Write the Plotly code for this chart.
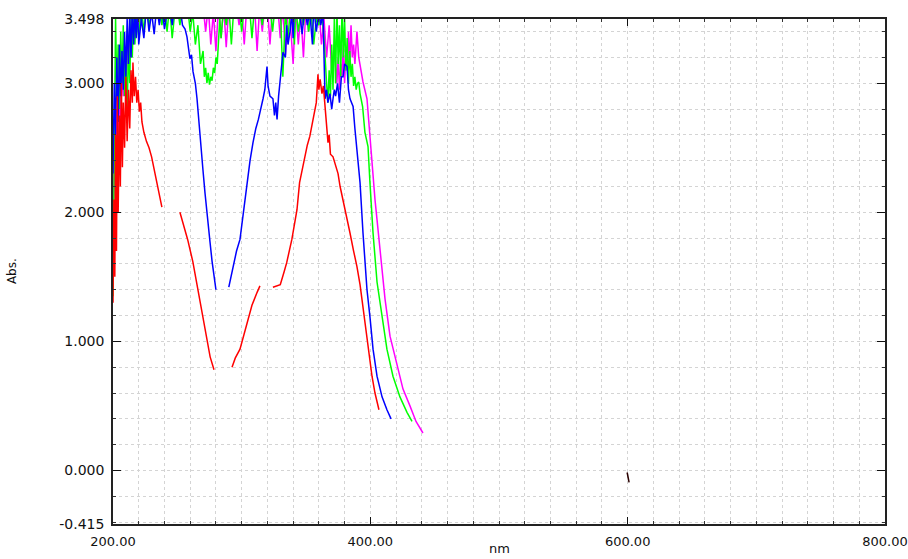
import plotly.graph_objects as go

# ---- data (wavelength nm, absorbance) ----
red_nm = [200, 200.7, 201.4, 202, 202.7, 203.4, 204, 205, 205.7, 206.5, 207.3, 208, 209, 210, 211, 212, 213, 214, 215,
          215.5, 216.5, 217.5, 218.5, 219.5, 220.5, 221.5, 222.5, 224, 226, 228, 230, 232, 234, 236, 238, None,
          252, 255, 258, 262, 265, 268, 270, 273, 275.5, 278.5, None,
          292.5, 295, 298.7, 302, 305, 308, 312, 314.2, None,
          324.3, 327, 330, 333, 335, 339, 343, 345, 347, 349, 351, 353, 355, 357, 358, 359.3, 360, 361, 362.4, 363.5,
          364.8, 366, 367.1, 368, 369, 371, 373, 374.9, 376.5, 378.8, 381, 384.2, 387, 389.6, 392, 394.3, 396.5,
          398.2, 400, 401.3, 403.6, 405, 406.7]
red_abs = [1.30, 2.10, 1.50, 2.60, 1.70, 2.90, 2.00, 2.75, 2.20, 3.00, 2.35, 2.85, 2.50, 3.05, 2.55, 2.95, 2.65, 3.10, 2.85,
           3.16, 2.90, 3.05, 2.85, 2.95, 2.78, 2.85, 2.70, 2.62, 2.55, 2.50, 2.43, 2.33, 2.22, 2.12, 2.04, None,
           2.00, 1.90, 1.79, 1.62, 1.46, 1.29, 1.19, 1.02, 0.88, 0.78, None,
           0.80, 0.87, 0.94, 1.06, 1.17, 1.28, 1.38, 1.43, None,
           1.42, 1.43, 1.44, 1.54, 1.61, 1.79, 2.02, 2.23, 2.33, 2.43, 2.52, 2.59, 2.70, 2.78, 2.85, 3.07, 2.95, 3.03, 2.92, 2.98,
           2.80, 2.70, 2.54, 2.60, 2.45, 2.43, 2.36, 2.30, 2.20, 2.10, 1.98, 1.84, 1.70, 1.58, 1.44, 1.27, 1.10,
           0.94, 0.82, 0.73, 0.60, 0.53, 0.47]

blue_nm = [200, 201, 202, 203, 204, 205, 206, 207, 208, 209, 210, 211, 212, 213, 214, 215, 216, 217, 218, 219, 220,
           222, 224, 226, 228, 230, 232, 234, 236, 238, 240, 242, 244, 246, 248, 250, 252, 254, 256, 257.5, 259.8,
           261, 262.2, 264, 265.3, 267.6, 269.9, 271.5, 273.1, 275.4, 277, 278.5, 280, None,
           290, 293.3, 296, 298.7, 301, 304.1, 306.5, 308.8, 311, 313, 315, 316.6, 318, 319.7, 320.5, 322, 324.3,
           325.5, 326.5, 327.5, 328.7, 329.8, 331, 332.1, 334, 335, 336, 337.6, 339, 340, 341, 343, 345, 347, 349,
           351, 353, 355, 356, 358, 360, 361.5, 363.2, 364.8, 366, 367, 368.6, 370, 371, 372, 373, 374.5, 376,
           377.5, 378.8, 380, 381.9, 383, 384.2, 385.5, 386.6, 388, 390.4, 392, 394.3, 397.4, 399.7, 402.1, 405.2,
           409.1, 412.9, 416.1]
blue_abs = [2.30, 3.00, 2.60, 3.20, 2.70, 3.30, 2.90, 3.25, 2.95, 3.40, 3.05, 3.50, 3.15, 3.55, 3.20, 3.60, 3.30, 3.55, 3.35, 3.60, 3.30,
            3.50, 3.35, 3.60, 3.40, 3.55, 3.38, 3.60, 3.45, 3.60, 3.42, 3.55, 3.60, 3.45, 3.60, 3.50, 3.60, 3.45, 3.42, 3.36, 3.19,
            3.22, 3.09, 3.00, 2.88, 2.57, 2.33, 2.15, 1.97, 1.77, 1.62, 1.50, 1.40, None,
            1.42, 1.58, 1.70, 1.79, 1.98, 2.23, 2.40, 2.54, 2.65, 2.72, 2.80, 2.88, 2.95, 3.13, 2.98, 2.90, 2.88,
            2.75, 2.85, 2.72, 2.90, 3.01, 3.15, 3.24, 3.20, 3.45, 3.30, 3.40, 3.55, 3.35, 3.60, 3.50, 3.55, 3.38, 3.60,
            3.45, 3.55, 3.30, 3.60, 3.40, 3.55, 3.45, 3.55, 2.88, 2.95, 2.85, 2.92, 2.80, 2.88, 2.95, 2.90, 3.00, 2.85,
            3.05, 3.05, 3.15, 3.13, 2.95, 2.88, 2.85, 2.82, 2.65, 2.36, 2.23, 1.84, 1.40, 1.19, 0.94, 0.73,
            0.57, 0.47, 0.40]

green_nm = [200, 201, 202, 203, 204, 205, 206, 207, 208, 209, 210, 211, 212, 213, 214, 215, 216, 217, 218, 220, 222,
            224, 226, 228, 230, 232, 234, 236, 238, 240, 242, 244, 246, 248, 250, 252, 254, 256, 258, 260, 262, 264,
            266, 268, 270, 271, 272, 273, 274, 275, 276, 277, 278, 279, 280, 281, 282, 283, 284, 286, 288, 290, 292,
            294, 296, 298, 300, 302, 304, 306, 308, 310, 312, 314, 316, 318, 320, 322, 324, 326, 328, 330, 332, 334,
            336, 338, 340, 341, 342, 344, 346, 348, 350, 352, 354, 356, 358, 360, 362, 364, 366, 367, 368, 369, 370,
            371, 372, 373, 374, 375, 376, 377, 378, 379, 380, 381, 382, 383, 384, 385, 386, 387, 388, 389, 390, 391,
            392, 394, 395.8, 398.2, 399.7, 402.1, 405.2, 409.1, 412.9, 417.6, 423, 428.5, 432.4, 436.3]
green_abs = [1.35, 2.40, 3.50, 2.90, 3.30, 2.80, 3.40, 3.00, 3.45, 2.90, 3.20, 2.75, 3.30, 3.00, 3.50, 3.20, 3.60, 3.30, 3.55, 3.35, 3.60,
             3.40, 3.60, 3.45, 3.55, 3.60, 3.50, 3.60, 3.45, 3.60, 3.40, 3.60, 3.35, 3.55, 3.60, 3.45, 3.60, 3.50, 3.60, 3.40, 3.55, 3.30,
             3.45, 3.15, 3.25, 3.05, 3.12, 3.00, 3.08, 2.99, 3.05, 3.02, 3.12, 3.08, 3.20, 3.15, 3.30, 3.50, 3.35, 3.60, 3.45, 3.60, 3.30,
             3.60, 3.50, 3.60, 3.40, 3.60, 3.55, 3.60, 3.35, 3.60, 3.50, 3.60, 3.45, 3.60, 3.55, 3.60, 3.40, 3.60, 3.50, 3.60, 3.05, 3.55,
             3.35, 3.60, 3.50, 3.30, 3.60, 3.40, 3.55, 3.45, 3.60, 3.40, 3.55, 3.30, 3.50, 3.45, 3.60, 3.35, 3.00, 2.85, 3.10, 2.90,
             3.30, 2.95, 3.50, 3.00, 3.60, 3.15, 3.45, 3.05, 3.60, 3.20, 3.50, 3.10, 3.35, 3.00, 3.25, 3.05, 3.15, 2.98, 3.05, 2.95, 3.00,
             3.01, 2.92, 2.82, 2.62, 2.51, 2.23, 1.84, 1.46, 1.19, 0.94, 0.73, 0.57, 0.45, 0.38]

mag_nm = [200, 201, 202, 203, 204, 205, 206, 207, 208, 209, 210, 211, 212, 213, 214, 215, 216, 218, 220, 222, 224,
          226, 228, 230, 232, 234, 236, 238, 240, 242, 244, 246, 248, 250, 252, 254, 256, 258, 260, 262, 264, 266,
          268, 270, 272, 274, 276, 278, 280, 282, 284, 286, 288, 290, 292, 294, 296, 298, 300, 302, 304, 306, 308,
          310, 312, 314, 316, 318, 320, 322, 324, 326, 328, 330, 332, 334, 336, 338, 340, 342, 344, 346, 348, 350,
          352, 354, 356, 358, 360, 362, 364, 366, 368, 370, 372, 374, 375, 376, 377, 378, 379, 380, 381, 382, 383,
          384, 385, 386, 387, 388, 389.6, 391, 392, 394.3, 397.4, 399.7, 400.5, 403.6, 407.5, 411.4, 415.3, 420.7,
          425.4, 430.8, 435.5, 440.9]
mag_abs = [1.90, 2.60, 2.10, 2.80, 2.40, 3.00, 2.70, 3.10, 2.90, 3.20, 3.00, 3.30, 3.10, 3.45, 3.20, 3.60, 3.30, 3.60, 3.45, 3.60, 3.55,
           3.60, 3.50, 3.60, 3.55, 3.60, 3.60, 3.50, 3.60, 3.55, 3.60, 3.60, 3.60, 3.50, 3.60, 3.60, 3.55, 3.60, 3.60, 3.50, 3.60, 3.60,
           3.55, 3.60, 3.40, 3.60, 3.30, 3.55, 3.25, 3.60, 3.35, 3.60, 3.28, 3.60, 3.50, 3.60, 3.60, 3.45, 3.60, 3.30, 3.60, 3.60, 3.50,
           3.60, 3.25, 3.60, 3.40, 3.60, 3.60, 3.30, 3.60, 3.50, 3.60, 3.35, 3.60, 3.22, 3.60, 3.45, 3.15, 3.60, 3.30, 3.55, 3.20, 3.60,
           3.40, 3.60, 3.50, 3.60, 3.60, 3.30, 3.50, 3.20, 3.45, 3.10, 3.30, 3.00, 3.20, 2.95, 3.15, 3.05, 3.30, 3.00, 3.25, 3.10, 3.40,
           3.15, 3.45, 3.20, 3.30, 3.15, 3.40, 3.20, 3.13, 3.01, 2.88, 2.62, 2.49, 2.10, 1.71, 1.33, 1.04, 0.81,
           0.63, 0.50, 0.38, 0.29]

mark_nm = [599.6, 600.3, 601.1]
mark_abs = [-0.016, -0.05, -0.093]

x_ticks = [200, 400, 600, 800]
x_ticktext = ["200.00", "400.00", "600.00", "800.00"]
y_ticks = [-0.415, 0, 1, 2, 3, 3.498]
y_ticktext = ["-0.415", "0.000", "1.000", "2.000", "3.000", "3.498"]

fig = go.Figure()
for xs, ys, col in [(mag_nm, mag_abs, "#ff00ff"), (green_nm, green_abs, "#00ff00"),
                    (blue_nm, blue_abs, "#0000ff"), (red_nm, red_abs, "#ff0000"),
                    (mark_nm, mark_abs, "#2a0000")]:
    fig.add_trace(go.Scatter(x=xs, y=ys, mode="lines", line=dict(color=col, width=1.5),
                             connectgaps=False, showlegend=False, hoverinfo="skip"))

font = dict(family="DejaVu Sans", size=14, color="#111")
fig.update_layout(
    width=908, height=559,
    margin=dict(l=113, r=23, t=19, b=35, autoexpand=False),
    paper_bgcolor="white", plot_bgcolor="white",
    font=font,
    xaxis=dict(range=[200, 800], tickmode="array", tickvals=x_ticks, ticktext=x_ticktext,
               automargin=False, tickfont=dict(family="DejaVu Sans", size=13, color="#111"),
               showgrid=True, gridcolor="#d4d4d4", griddash="dot", gridwidth=1,
               ticks="inside", ticklen=7, tickcolor="#111", tickwidth=1.2,
               showline=True, linecolor="#222", linewidth=1.5, mirror="ticks",
               zeroline=False, ticklabelstandoff=5,
               minor=dict(dtick=20, tick0=200, showgrid=True, gridcolor="#d4d4d4", griddash="dot",
                          ticks="inside", ticklen=3, tickcolor="#333")),
    yaxis=dict(range=[-0.415, 3.498], tickmode="array", tickvals=y_ticks, ticktext=y_ticktext,
               automargin=False,
               showgrid=True, gridcolor="#d4d4d4", griddash="dot", gridwidth=1,
               ticks="inside", ticklen=8, tickcolor="#111", tickwidth=1.2,
               showline=True, linecolor="#222", linewidth=1.5, mirror="ticks",
               zeroline=False, ticklabelstandoff=4,
               minor=dict(dtick=0.2, tick0=0, showgrid=True, gridcolor="#d4d4d4", griddash="dot",
                          ticks="inside", ticklen=3, tickcolor="#333")),
    annotations=[
        dict(text="Abs.", xref="paper", yref="paper", x=-0.143, y=0.5, showarrow=False,
             textangle=-90, font=dict(family="DejaVu Sans", size=12, color="#111")),
        dict(text="nm", xref="paper", yref="paper", x=0.5, y=-0.0673, yanchor="bottom", showarrow=False,
             font=dict(family="DejaVu Sans", size=13, color="#111")),
    ],
)
fig.write_html("out.html")
